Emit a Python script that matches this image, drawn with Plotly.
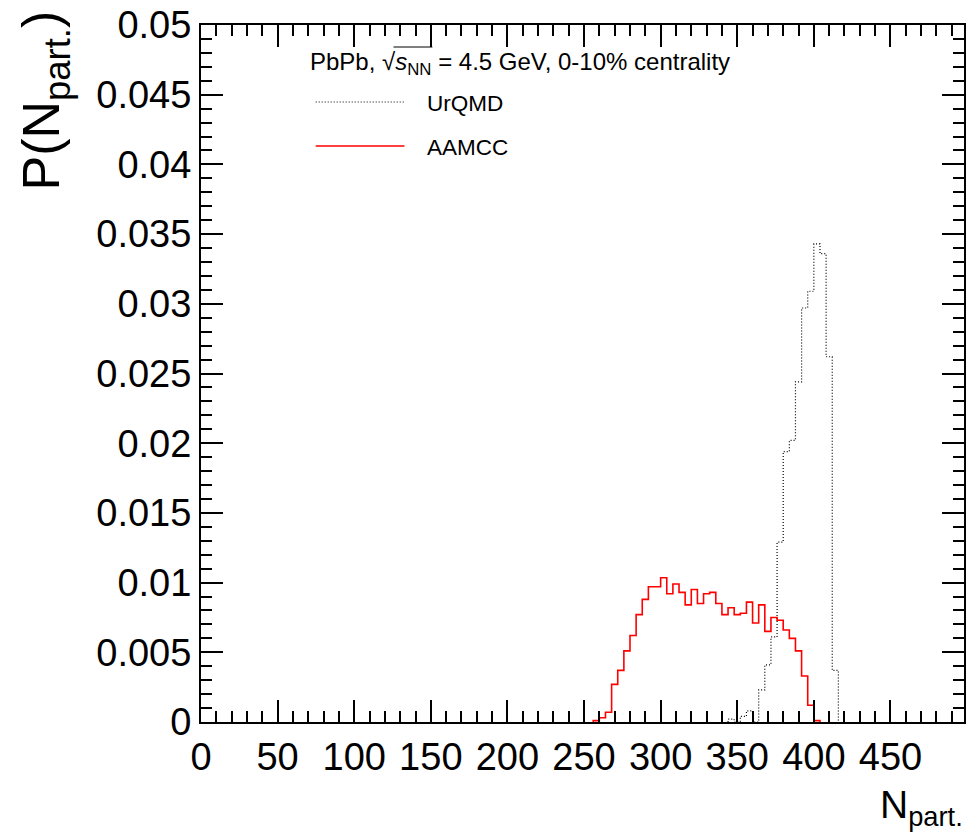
import plotly.graph_objects as go

# ---------------- data ----------------
bin_width = 4
urqmd_first_edge = 344
urqmd_values = [0.0002, 0.0, 0.0004, 0.0008, 0.0, 0.0023, 0.0041, 0.0061, 0.0129,
                0.0194, 0.0202, 0.0244, 0.0297, 0.0309, 0.0343, 0.0336, 0.0262, 0.0037]
aamcc_first_edge = 256
aamcc_values = [0.0001, 0.0003, 0.0007, 0.0027, 0.0037, 0.0051, 0.0062, 0.0077, 0.0088,
                0.0097, 0.0097, 0.01035, 0.0092, 0.0099, 0.0093, 0.0084, 0.0095, 0.0085,
                0.0092, 0.0093, 0.0085, 0.0077, 0.0082, 0.0077, 0.0078, 0.0086, 0.0071,
                0.0084, 0.0065, 0.0075, 0.0073, 0.0066, 0.0060, 0.0051, 0.0033, 0.0012,
                0.0001]
x_tick_vals = [0, 50, 100, 150, 200, 250, 300, 350, 400, 450]
x_tick_text = ["0", "50", "100", "150", "200", "250", "300", "350", "400", "450"]
y_tick_vals = [0, 0.005, 0.01, 0.015, 0.02, 0.025, 0.03, 0.035, 0.04, 0.045, 0.05]
y_tick_text = ["0", "0.005", "0.01", "0.015", "0.02", "0.025", "0.03", "0.035",
               "0.04", "0.045", "0.05"]
series_names = ["UrQMD", "AAMCC"]
header_text = "PbPb, √<i>s</i><sub>NN</sub> = 4.5 GeV, 0-10% centrality"


def step_xy(first_edge, values):
    xs = [first_edge]
    ys = [0.0]
    for i, v in enumerate(values):
        xs.append(first_edge + i * bin_width)
        ys.append(v)
    end = first_edge + len(values) * bin_width
    xs += [end, end]
    ys += [values[-1], 0.0]
    return xs, ys


FONT = "Liberation Sans, Arial, Helvetica, sans-serif"
W, H = 967, 835
ML, MR, MT, MB = 201, 1, 25, 113
PW, PH = W - ML - MR, H - MT - MB


def px(x):
    return (x - ML) / PW


def py(y):
    return (H - MB - y) / PH


fig = go.Figure()
ux, uy = step_xy(urqmd_first_edge, urqmd_values)
fig.add_trace(go.Scatter(x=ux, y=uy, mode="lines", line_shape="hv", name=series_names[0],
                         line=dict(color="black", width=1.2, dash="1px,2px")))
ax_, ay_ = step_xy(aamcc_first_edge, aamcc_values)
fig.add_trace(go.Scatter(x=ax_, y=ay_, mode="lines", line_shape="hv", name=series_names[1],
                         line=dict(color="#ff0000", width=1.6)))

axis_common = dict(
    showgrid=False, zeroline=False, showline=True, linecolor="black", linewidth=2,
    mirror="allticks", ticks="inside", ticklen=22, tickwidth=2, tickcolor="black",
    tickmode="array", tickfont=dict(family=FONT, size=38, color="black"),
)
fig.update_xaxes(range=[0, 498], tickvals=x_tick_vals, ticktext=x_tick_text,
                 minor=dict(ticks="inside", ticklen=11, tickwidth=2, tickcolor="black",
                            tick0=0, dtick=10, showgrid=False),
                 **axis_common)
fig.update_yaxes(range=[0, 0.05], tickvals=y_tick_vals, ticktext=y_tick_text,
                 minor=dict(ticks="inside", ticklen=11, tickwidth=2, tickcolor="black",
                            tick0=0, dtick=0.001, showgrid=False),
                 **axis_common)

annotations = [
    dict(text=header_text, x=px(308), y=py(63), xref="paper", yref="paper",
         xanchor="left", yanchor="middle", showarrow=False,
         font=dict(family=FONT, size=24, color="black")),
    dict(text=series_names[0], x=px(426), y=py(103), xref="paper", yref="paper",
         xanchor="left", yanchor="middle", showarrow=False,
         font=dict(family=FONT, size=22.5, color="black")),
    dict(text=series_names[1], x=px(426), y=py(147), xref="paper", yref="paper",
         xanchor="left", yanchor="middle", showarrow=False,
         font=dict(family=FONT, size=22.5, color="black")),
    dict(text="N<sub>part.</sub>", x=px(967), y=py(834), xref="paper", yref="paper",
         xanchor="right", yanchor="bottom", showarrow=False,
         font=dict(family=FONT, size=39, color="black")),
    dict(text="P(N<sub>part.</sub>)", x=px(10), y=py(8), xref="paper", yref="paper",
         xanchor="left", yanchor="top", textangle=-90, showarrow=False,
         font=dict(family=FONT, size=52, color="black")),
]

shapes = [
    dict(type="line", xref="paper", yref="paper", x0=px(316), x1=px(405), y0=py(102), y1=py(102),
         line=dict(color="black", width=1.2, dash="1px,2px")),
    dict(type="line", xref="paper", yref="paper", x0=px(316), x1=px(405), y0=py(146), y1=py(146),
         line=dict(color="#ff0000", width=1.6)),
    dict(type="line", xref="paper", yref="paper", x0=px(394), x1=px(433), y0=py(47), y1=py(47),
         line=dict(color="black", width=1)),
]

fig.update_layout(
    width=W, height=H, margin=dict(l=ML, r=MR, t=MT, b=MB, pad=0),
    paper_bgcolor="white", plot_bgcolor="white", showlegend=False,
    annotations=annotations, shapes=shapes,
)
fig.write_html("out.html")
